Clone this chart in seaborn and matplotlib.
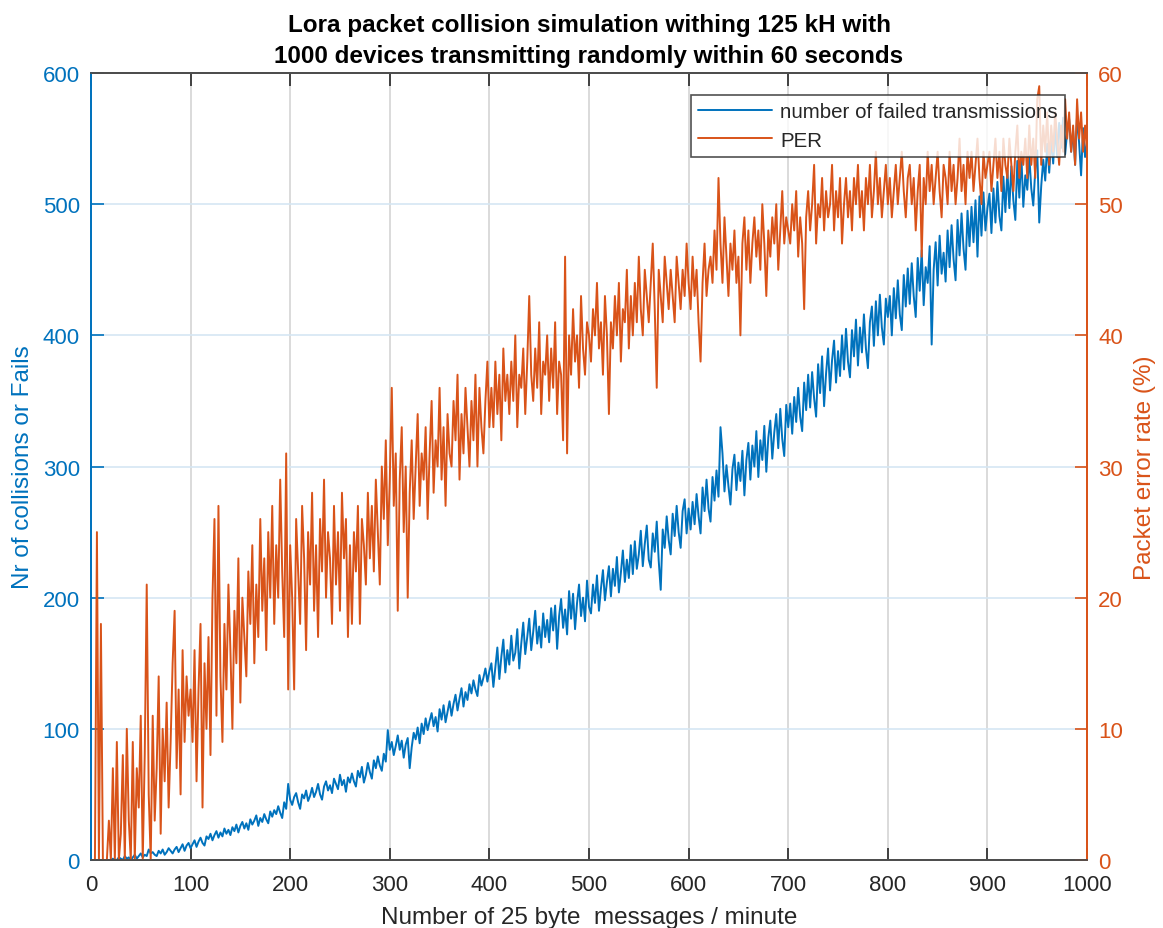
import matplotlib
matplotlib.use('Agg')
import matplotlib.pyplot as plt
import seaborn as sns
import numpy as np
import pandas as pd

# messages per minute (x axis), sampled every 2
messages = np.arange(2, 1001, 2)

# number of failed transmissions (left axis)
failed = [
    0, 0, 0, 0, 0, 0, 0, 0, 0, 0,  1, 0, 0, 2, 1, 0, 3, 1, 2, 0,
    2, 4, 1, 3, 5, 2, 4, 3, 8, 5,  6, 4, 3, 7, 5, 8, 4, 6, 9, 7,
    5, 8, 10, 6, 9, 12, 7, 11, 13, 9,
    12, 15, 10, 14, 17, 13, 11, 18, 16, 20,  15, 19, 22, 17, 21, 18, 24, 20, 23, 19,
    25, 22, 27, 21, 26, 29, 24, 28, 23, 31,  27, 30, 34, 26, 32, 29, 35, 31, 28, 37,
    33, 38, 35, 41, 36, 32, 44, 39, 58, 46,
    42, 48, 51, 44, 39, 50, 47, 53, 45, 49,  55, 48, 52, 58, 50, 46, 56, 60, 53, 57,
    51, 62, 58, 54, 65, 57, 61, 52, 63, 59,  66, 60, 56, 68, 63, 71, 59, 65, 74, 67,
    62, 76, 70, 79, 72, 68, 81, 75, 99, 84,
    90, 80, 87, 95, 84, 91, 78, 88, 93, 70,  86, 97, 92, 101, 89, 104, 96, 108, 99, 106,
    112, 102, 109, 98, 115, 107, 118, 105, 113, 121,  110, 119, 126, 114, 123, 131, 117, 128, 122, 134,
    127, 137, 130, 125, 141, 133, 139, 146, 136, 144,
    150, 132, 147, 162, 138, 155, 168, 143, 160, 149,  171, 152, 158, 176, 146, 165, 181, 157, 170, 184,
    160, 174, 190, 165, 178, 162, 188, 170, 183, 166,  192, 175, 194, 161, 186, 199, 177, 191, 172, 205,
    184, 203, 176, 196, 210, 186, 200, 182, 213, 193,
    188, 210, 196, 217, 190, 207, 221, 198, 212, 224,  201, 222, 209, 231, 204, 219, 236, 212, 229, 215,
    240, 218, 243, 222, 233, 251, 224, 241, 255, 229,  223, 249, 235, 258, 228, 206, 252, 238, 262, 244,
    233, 264, 247, 270, 250, 238, 266, 275, 249, 268,
    252, 273, 256, 279, 262, 249, 284, 266, 290, 268,  258, 292, 274, 297, 277, 330, 310, 281, 301, 285,
    271, 298, 309, 282, 303, 289, 312, 278, 305, 318,  290, 316, 300, 327, 292, 320, 305, 331, 296, 322,
    335, 306, 326, 340, 314, 344, 321, 308, 347, 330,
    348, 325, 353, 334, 360, 338, 327, 364, 343, 370,  345, 372, 352, 338, 378, 356, 384, 346, 371, 390,
    358, 381, 396, 364, 388, 369, 400, 374, 405, 380,  368, 404, 384, 412, 377, 406, 387, 416, 390, 375,
    410, 422, 392, 426, 400, 431, 406, 393, 428, 414,
    430, 400, 436, 413, 442, 416, 404, 446, 422, 451,  424, 455, 430, 414, 459, 434, 465, 423, 452, 440,
    468, 393, 450, 471, 438, 476, 447, 463, 441, 480,  452, 484, 458, 442, 488, 461, 493, 466, 450, 495,
    468, 498, 471, 503, 460, 506, 476, 509, 480, 497,
    508, 478, 512, 486, 517, 491, 480, 521, 494, 526,  497, 529, 503, 488, 533, 505, 538, 498, 522, 511,
    537, 512, 499, 526, 541, 486, 514, 534, 518, 546,  524, 550, 531, 558, 536, 562, 543, 566, 538, 555,
    565, 540, 556, 530, 568, 547, 522, 558, 536, 548,
]

# packet error rate in % (right axis)
per = [
    0, 0, 25, 0, 18, 0, 0, 0, 3, 0,  7, 0, 9, 0, 2, 8, 0, 10, 3, 0,
    9, 0, 7, 4, 11, 0, 8, 21, 5, 0,  11, 3, 7, 14, 2, 10, 6, 12, 4, 9,
    15, 19, 7, 13, 5, 16, 9, 14, 11, 13,
    9, 16, 6, 13, 18, 4, 15, 10, 17, 8,  20, 26, 11, 27, 14, 9, 18, 13, 21, 16,
    10, 19, 15, 23, 12, 20, 17, 14, 22, 18,  24, 15, 21, 17, 26, 19, 23, 16, 25, 20,
    27, 18, 24, 20, 29, 22, 17, 31, 13, 24,
    20, 13, 26, 22, 18, 27, 23, 16, 25, 21,  28, 19, 24, 17, 26, 22, 29, 20, 25, 23,
    18, 27, 21, 25, 19, 28, 23, 26, 17, 24,  18, 25, 22, 27, 18, 26, 24, 21, 28, 23,
    27, 22, 29, 25, 21, 30, 26, 32, 24, 29,
    36, 27, 31, 19, 29, 33, 25, 30, 20, 28,  32, 26, 30, 34, 27, 31, 29, 33, 26, 31,
    35, 28, 32, 30, 36, 29, 33, 27, 34, 31,  30, 35, 32, 37, 29, 34, 31, 36, 33, 30,
    35, 32, 37, 30, 36, 33, 31, 35, 38, 33,
    36, 33, 38, 34, 37, 32, 39, 35, 37, 34,  38, 35, 40, 33, 37, 36, 39, 34, 38, 43,
    37, 35, 39, 36, 41, 34, 38, 37, 40, 35,  39, 36, 41, 34, 38, 37, 32, 46, 31, 40,
    37, 42, 38, 40, 36, 43, 39, 37, 41, 40,
    38, 42, 40, 44, 39, 41, 37, 43, 40, 34,  41, 39, 43, 40, 44, 38, 42, 41, 45, 39,
    43, 40, 44, 41, 46, 42, 40, 45, 43, 41,  44, 47, 42, 36, 45, 43, 41, 46, 44, 42,
    45, 43, 41, 46, 44, 42, 45, 43, 47, 44,
    42, 46, 43, 45, 41, 38, 44, 47, 43, 45,  46, 44, 48, 45, 52, 47, 44, 49, 46, 43,
    47, 45, 48, 44, 46, 40, 47, 49, 45, 48,  44, 47, 49, 46, 48, 45, 50, 47, 43, 48,
    46, 49, 47, 50, 45, 48, 51, 47, 49, 48,
    47, 50, 48, 51, 46, 49, 47, 42, 49, 51,  48, 50, 53, 47, 50, 49, 52, 48, 51, 49,
    50, 53, 48, 51, 49, 52, 47, 50, 52, 49,  51, 48, 52, 50, 53, 49, 51, 48, 52, 50,
    53, 49, 51, 54, 50, 52, 49, 51, 53, 50,
    52, 49, 51, 53, 50, 52, 54, 51, 49, 52,  53, 50, 52, 48, 51, 53, 46, 52, 50, 54,
    51, 53, 50, 52, 54, 51, 49, 53, 52, 50,  54, 51, 53, 50, 52, 55, 51, 53, 50, 54,
    52, 54, 51, 53, 55, 52, 50, 54, 52, 53,
    54, 51, 53, 55, 52, 54, 51, 55, 53, 52,  55, 53, 51, 54, 56, 52, 54, 53, 55, 52,
    56, 53, 55, 52, 58, 59, 53, 56, 54, 57,  53, 56, 54, 57, 55, 53, 56, 54, 58, 55,
    57, 54, 56, 53, 58, 55, 57, 54, 56, 54,
]

x_ticks = list(range(0, 1001, 100))
left_ticks = list(range(0, 601, 100))
right_ticks = list(range(0, 61, 10))

BLUE = '#0072BD'
ORANGE = '#D95319'
DARK = '#262626'

df = pd.DataFrame({'messages': messages, 'failed': failed, 'per': per})

sns.set_style('white')
plt.rcParams['font.family'] = ['Liberation Sans', 'DejaVu Sans']

fig = plt.figure(figsize=(11.63, 9.29), dpi=100)
ax = fig.add_axes([0.0782, 0.0732, 0.8565, 0.8471])
ax2 = ax.twinx()

sns.lineplot(data=df, x='messages', y='failed', ax=ax, color=BLUE, lw=1.4,
             label='number of failed transmissions', legend=False)
sns.lineplot(data=df, x='messages', y='per', ax=ax2, color=ORANGE, lw=1.4,
             label='PER', legend=False)

ax.set_xlim(0, 1000)
ax.set_ylim(0, 600)
ax2.set_ylim(0, 60)
ax.set_xticks(x_ticks)
ax.set_yticks(left_ticks)
ax2.set_yticks(right_ticks)

ax.set_axisbelow(True)
ax.grid(axis='x', color='#d4d4d4', lw=1.2)
ax.grid(axis='y', color='#d6e6f3', lw=1.2)

ax.xaxis.set_ticks_position('both')
ax.tick_params(axis='x', direction='in', length=9, width=1.2, colors=DARK, labelsize=16, pad=10)
ax.tick_params(axis='y', direction='in', length=9, width=1.2, colors=BLUE, labelsize=16, pad=8)
ax2.tick_params(axis='y', direction='in', length=9, width=1.2, colors=ORANGE, labelsize=16, pad=8)

for a in (ax, ax2):
    a.spines['top'].set_color('#4d4d4d')
    a.spines['bottom'].set_color('#4d4d4d')
    a.spines['left'].set_color(BLUE)
    a.spines['right'].set_color(ORANGE)
    for s in a.spines.values():
        s.set_linewidth(1.3)

ax.set_xlabel('Number of 25 byte  messages / minute', fontsize=17.5, color=DARK, labelpad=8)
ax.set_ylabel('Nr of collisions or Fails', fontsize=17.5, color=BLUE, labelpad=6)
ax2.set_ylabel('Packet error rate (%)', fontsize=17.5, color=ORANGE, labelpad=8)

ax.set_title('Lora packet collision simulation withing 125 kH with\n'
             '1000 devices transmitting randomly within 60 seconds',
             fontsize=17.5, fontweight='bold', color='black', pad=8, linespacing=1.45)

h1, l1 = ax.get_legend_handles_labels()
h2, l2 = ax2.get_legend_handles_labels()
leg = ax2.legend(h1 + h2, l1 + l2, loc='upper right', bbox_to_anchor=(0.978, 0.972),
                 fontsize=14.8, frameon=True, fancybox=False, edgecolor='#262626',
                 handlelength=3.6, handletextpad=0.4, borderpad=0.35, labelspacing=0.45,
                 borderaxespad=0)
leg.get_frame().set_linewidth(1.2)

fig.savefig('out.png', dpi=100)
